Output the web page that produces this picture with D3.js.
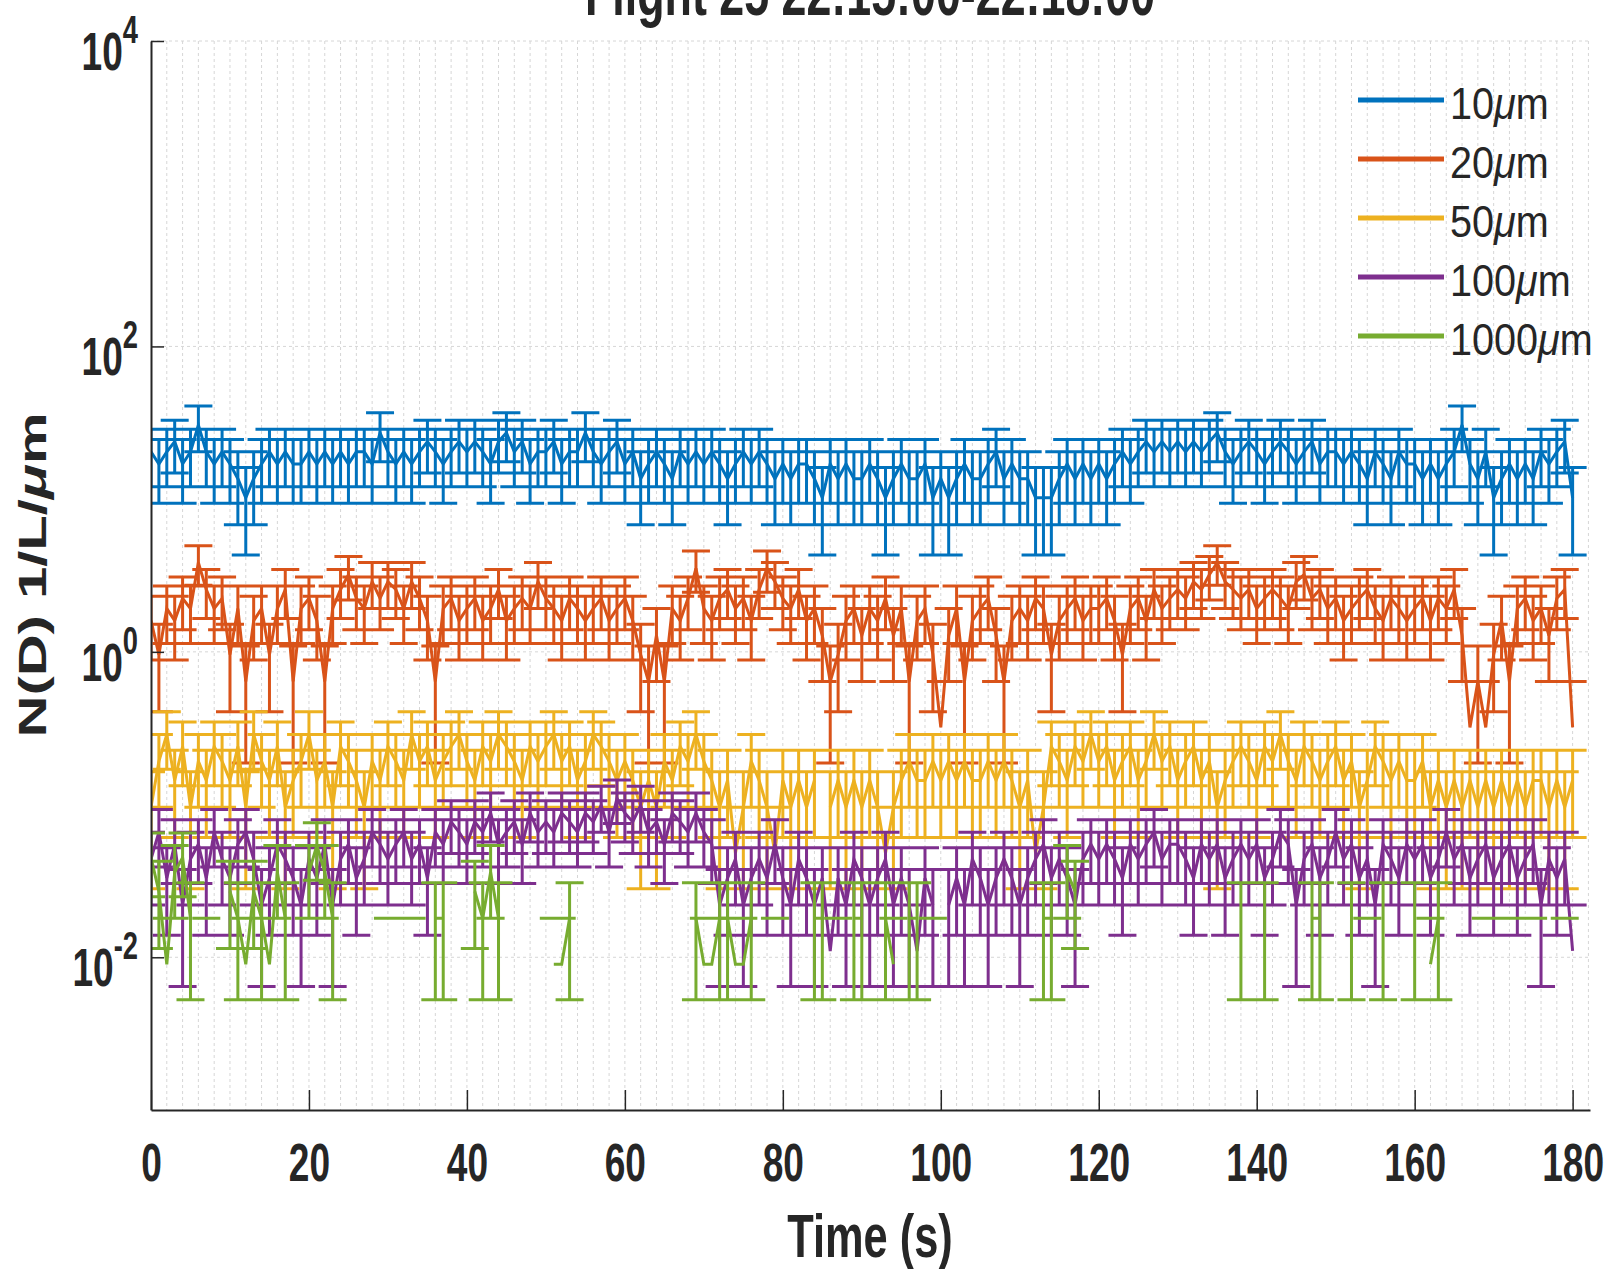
<!DOCTYPE html>
<html>
<head>
<meta charset="utf-8">
<script src="https://cdn.jsdelivr.net/npm/d3@7/dist/d3.min.js"></script>
<style>
  body { margin: 0; background: #fff; }
  text { font-family: "Liberation Sans", Arial, sans-serif; fill: #262626; }
</style>
</head>
<body>
<svg id="chart" width="1612" height="1269"></svg>
<script>
// particle counts per second for each size bin, t = 0..180 s
const time = d3.range(0, 181);

const counts10 = [
  6,5,6,7,5,6,9,6,5,6, 5,4,3,4,5,6,5,6,5,5, 6,5,6,5,6,5,6,6,5,8,
  6,5,6,5,6,7,6,5,6,7, 6,7,6,5,7,8,6,7,5,6, 6,7,5,6,6,8,6,5,6,7,
  5,6,4,5,6,5,4,6,5,6, 5,6,5,4,5,6,5,6,5,4, 5,4,5,5,4,3,5,4,5,4,
  4,5,4,3,4,5,4,4,5,3, 4,3,4,5,4,4,5,6,4,5, 4,4,3,3,3,4,5,4,5,4,
  5,4,5,6,5,6,7,6,7,6, 7,6,7,6,7,8,6,5,6,7, 6,5,6,7,6,5,6,7,5,6,
  6,5,6,5,4,6,5,4,6,5, 5,4,5,4,5,6,9,5,4,6, 3,4,5,4,5,4,6,5,6,7, 3
];
const counts20 = [
  5,3,6,5,7,6,12,8,6,7, 3,6,2,5,6,3,6,8,2,6, 7,5,2,6,8,10,7,6,9,7,
  9,8,6,9,7,5,2,6,7,5, 6,7,5,6,8,5,6,7,6,9, 7,6,5,7,6,5,6,7,5,6,
  7,5,3,2,4,2,6,5,7,11, 6,5,7,8,6,7,5,8,11,9, 7,6,8,5,6,4,2,3,5,6,
  4,6,5,7,4,6,2,5,6,3, 1,4,6,2,5,6,7,4,2,5, 6,5,7,6,3,5,6,7,5,6,
  6,7,5,3,6,7,5,8,6,7, 8,7,9,8,10,12,9,8,7,8, 6,7,8,7,6,9,10,7,8,6,
  7,5,6,7,8,6,5,7,6,5, 6,7,5,7,6,8,4,1,2,1, 3,5,2,6,7,5,6,4,7,8, 1
];
const counts50 = [
  2,4,6,3,5,2,4,3,5,4, 3,5,2,6,4,3,5,2,3,4, 6,3,4,2,5,4,3,2,4,3,
  5,4,3,6,4,5,3,4,5,6, 4,3,5,4,6,5,4,3,5,4, 5,6,4,5,3,4,6,5,4,3,
  4,3,2,3,2,4,3,5,4,6, 4,3,2,3,1,2,4,3,2,1, 3,2,3,2,3,0,2,3,2,3,
  2,3,2,1,2,3,4,3,3,4, 3,4,3,4,3,3,4,3,4,3, 2,3,1,2,5,4,3,5,4,6,
  4,5,3,4,5,3,4,6,4,5, 3,4,5,3,4,2,3,4,5,4, 3,5,4,6,4,3,5,4,3,4,
  5,3,4,2,3,5,4,3,4,3, 3,4,2,3,2,3,2,3,2,3, 2,3,2,3,2,3,3,2,3,2, 3
];
const counts100 = [
  4,6,3,5,2,4,5,3,6,4, 3,5,6,4,2,3,5,4,3,2, 4,3,5,2,4,5,3,4,6,5,
  4,5,6,4,5,3,6,5,7,6, 5,7,6,8,5,6,7,5,8,6, 7,6,8,7,6,8,7,9,6,10,
  8,7,9,6,7,5,8,7,6,8, 6,5,2,3,4,2,3,4,3,5, 3,2,4,3,2,3,1,3,2,4,
  3,2,3,4,2,3,2,1,3,2, 0,2,3,2,4,3,2,3,4,3, 2,3,4,5,3,4,3,2,4,5,
  4,5,4,3,5,4,5,6,4,5, 5,4,3,5,4,5,3,4,5,4, 5,3,4,6,5,2,4,5,3,4,
  6,4,5,3,4,2,5,4,3,5, 4,5,3,4,6,4,5,3,4,5, 3,4,5,3,4,5,2,4,3,4, 1
];
const counts1000 = [
  5,3,1,4,5,2,0,1,0,0, 3,2,1,3,2,1,4,2,0,0, 4,6,4,2,0,0,0,0,0,0,
  1,0,0,1,0,0,2,2,0,0, 0,3,2,4,2,0,0,0,0,0, 0,1,1,2,0,0,0,0,0,0,
  0,0,0,0,0,0,0,0,0,2, 1,1,2,2,1,1,2,0,0,1, 0,0,0,0,2,2,0,1,0,2,
  2,0,0,2,1,0,2,2,0,1, 0,0,0,0,0,0,0,0,0,0, 0,0,0,2,2,0,4,3,0,0,
  0,0,0,0,0,0,0,0,0,0, 0,0,0,0,0,0,0,0,2,0, 0,2,0,0,0,0,0,2,2,0,
  0,0,2,0,1,0,2,0,0,0, 2,0,1,2,0,0,0,0,0,1, 0,0,1,0,0,1,0,0,0,1, 0
];

// N(D) per count (1/L/um) for each bin
const binFactor = [3.4, 0.32, 0.048, 0.011, 0.009];
const binSizes = ["10", "20", "50", "100", "1000"];
const binColors = ["#0072BD", "#D95319", "#EDB120", "#7E2F8E", "#77AC30"];
const allCounts = [counts10, counts20, counts50, counts100, counts1000];

const xTicks = [0, 20, 40, 60, 80, 100, 120, 140, 160, 180];
const yTicks = [1e-2, 1e0, 1e2, 1e4];
const yExponents = ["-2", "0", "2", "4"];

const svg = d3.select('#chart');
const plotLeft = 151, plotRight = 1590, plotTop = 41, plotBottom = 1110;

const x = d3.scaleLinear().domain([0, 182.2]).range([plotLeft, plotRight]);
const y = d3.scaleLog().domain([1e-3, 1e4]).range([plotBottom, plotTop]);

svg.append('rect').attr('width', 1612).attr('height', 1269).attr('fill', '#fff');

// grid
const grid = svg.append('g').attr('stroke', '#d6d6d6').attr('stroke-width', 1).attr('stroke-dasharray', '3,3');
grid.selectAll('.vg')
  .data(d3.range(2, 183, 2))
  .enter().append('line')
  .attr('x1', d => x(d)).attr('x2', d => x(d))
  .attr('y1', plotTop).attr('y2', plotBottom);
grid.selectAll('.hg')
  .data(yTicks)
  .enter().append('line')
  .attr('x1', plotLeft).attr('x2', plotRight)
  .attr('y1', d => y(d)).attr('y2', d => y(d));

svg.append('defs').append('clipPath').attr('id', 'clip')
  .append('rect').attr('x', plotLeft).attr('y', plotTop)
  .attr('width', plotRight - plotLeft).attr('height', plotBottom - plotTop);

const plot = svg.append('g').attr('clip-path', 'url(#clip)');
const capHalf = 14;

allCounts.forEach((counts, i) => {
  const k = binFactor[i];
  const pts = time.map((t, j) => ({
    t: t,
    n: counts[j],
    v: counts[j] * k,
    lo: counts[j] * k - Math.sqrt(counts[j]) * k,
    hi: counts[j] * k + Math.sqrt(counts[j]) * k
  }));

  // error bars; a bar reaching zero can't be drawn on a log axis, only its top cap
  const p = d3.path();
  pts.filter(d => d.n > 0).forEach(d => {
    const cx = x(d.t);
    p.moveTo(cx - capHalf, y(d.hi));
    p.lineTo(cx + capHalf, y(d.hi));
    if (d.lo > 0) {
      p.moveTo(cx, y(d.hi));
      p.lineTo(cx, y(d.lo));
      p.moveTo(cx - capHalf, y(d.lo));
      p.lineTo(cx + capHalf, y(d.lo));
    }
  });
  plot.append('path')
    .attr('d', p.toString())
    .attr('fill', 'none')
    .attr('stroke', binColors[i])
    .attr('stroke-width', 3);

  const line = d3.line()
    .defined(d => d.n > 0)
    .x(d => x(d.t))
    .y(d => y(d.v));
  plot.append('path')
    .datum(pts)
    .attr('d', line)
    .attr('fill', 'none')
    .attr('stroke', binColors[i])
    .attr('stroke-width', 3);
});

// axes
const xAxis = d3.axisBottom(x)
  .tickValues(xTicks)
  .tickSizeInner(-20)
  .tickSizeOuter(0)
  .tickPadding(33);
const gx = svg.append('g')
  .attr('transform', `translate(0,${plotBottom})`)
  .call(xAxis);
gx.select('.domain').attr('stroke', '#262626').attr('stroke-width', 2);
gx.selectAll('.tick line').attr('stroke', '#262626').attr('stroke-width', 1.5);
gx.selectAll('.tick text')
  .attr('font-size', 53)
  .attr('font-weight', 'bold')
  .attr('font-family', '"Liberation Sans", Arial, sans-serif')
  .attr('fill', '#262626')
  .attr('transform', 'scale(0.7,1)');

const yAxis = d3.axisLeft(y)
  .tickValues(yTicks)
  .tickSizeInner(-13)
  .tickSizeOuter(0)
  .tickFormat('');
const gy = svg.append('g')
  .attr('transform', `translate(${plotLeft},0)`)
  .call(yAxis);
gy.select('.domain').attr('stroke', '#262626').attr('stroke-width', 2);
gy.selectAll('.tick line').attr('stroke', '#262626').attr('stroke-width', 1.5);

yTicks.forEach((v, i) => {
  const t = svg.append('g')
    .attr('transform', `translate(138,${y(v) + 29}) scale(0.7,1)`)
    .append('text')
    .attr('text-anchor', 'end')
    .attr('font-weight', 'bold')
    .attr('font-size', 53);
  t.append('tspan').text('10');
  t.append('tspan').attr('dy', -27).attr('font-size', 39).text(yExponents[i]);
});

// labels
svg.append('g')
  .attr('transform', 'translate(870,1257) scale(0.7,1)')
  .append('text')
  .attr('text-anchor', 'middle')
  .attr('font-weight', 'bold')
  .attr('font-size', 62)
  .text('Time (s)');

const yl = svg.append('g')
  .attr('transform', 'translate(46,575) scale(0.68,1) rotate(-90)')
  .append('text')
  .attr('text-anchor', 'middle')
  .attr('font-weight', 'bold')
  .attr('font-size', 58);
yl.append('tspan').text('N(D) 1/L/');
yl.append('tspan').attr('font-style', 'italic').text('μ');
yl.append('tspan').text('m');

svg.append('g')
  .attr('transform', 'translate(870,15) scale(0.7,1)')
  .append('text')
  .attr('text-anchor', 'middle')
  .attr('font-weight', 'bold')
  .attr('font-size', 64)
  .attr('fill', '#000')
  .text('Flight 25 22:15:00-22:18:00');

// legend
const legend = svg.append('g');
binSizes.forEach((s, i) => {
  const ly = 100 + i * 59;
  legend.append('line')
    .attr('x1', 1358).attr('x2', 1444)
    .attr('y1', ly).attr('y2', ly)
    .attr('stroke', binColors[i])
    .attr('stroke-width', 5);
  const lt = legend.append('g')
    .attr('transform', `translate(1450,${ly + 19}) scale(0.88,1)`)
    .append('text')
    .attr('font-size', 45)
    .attr('fill', '#000');
  lt.append('tspan').text(s);
  lt.append('tspan').attr('font-style', 'italic').text('μ');
  lt.append('tspan').text('m');
});
</script>
</body>
</html>
